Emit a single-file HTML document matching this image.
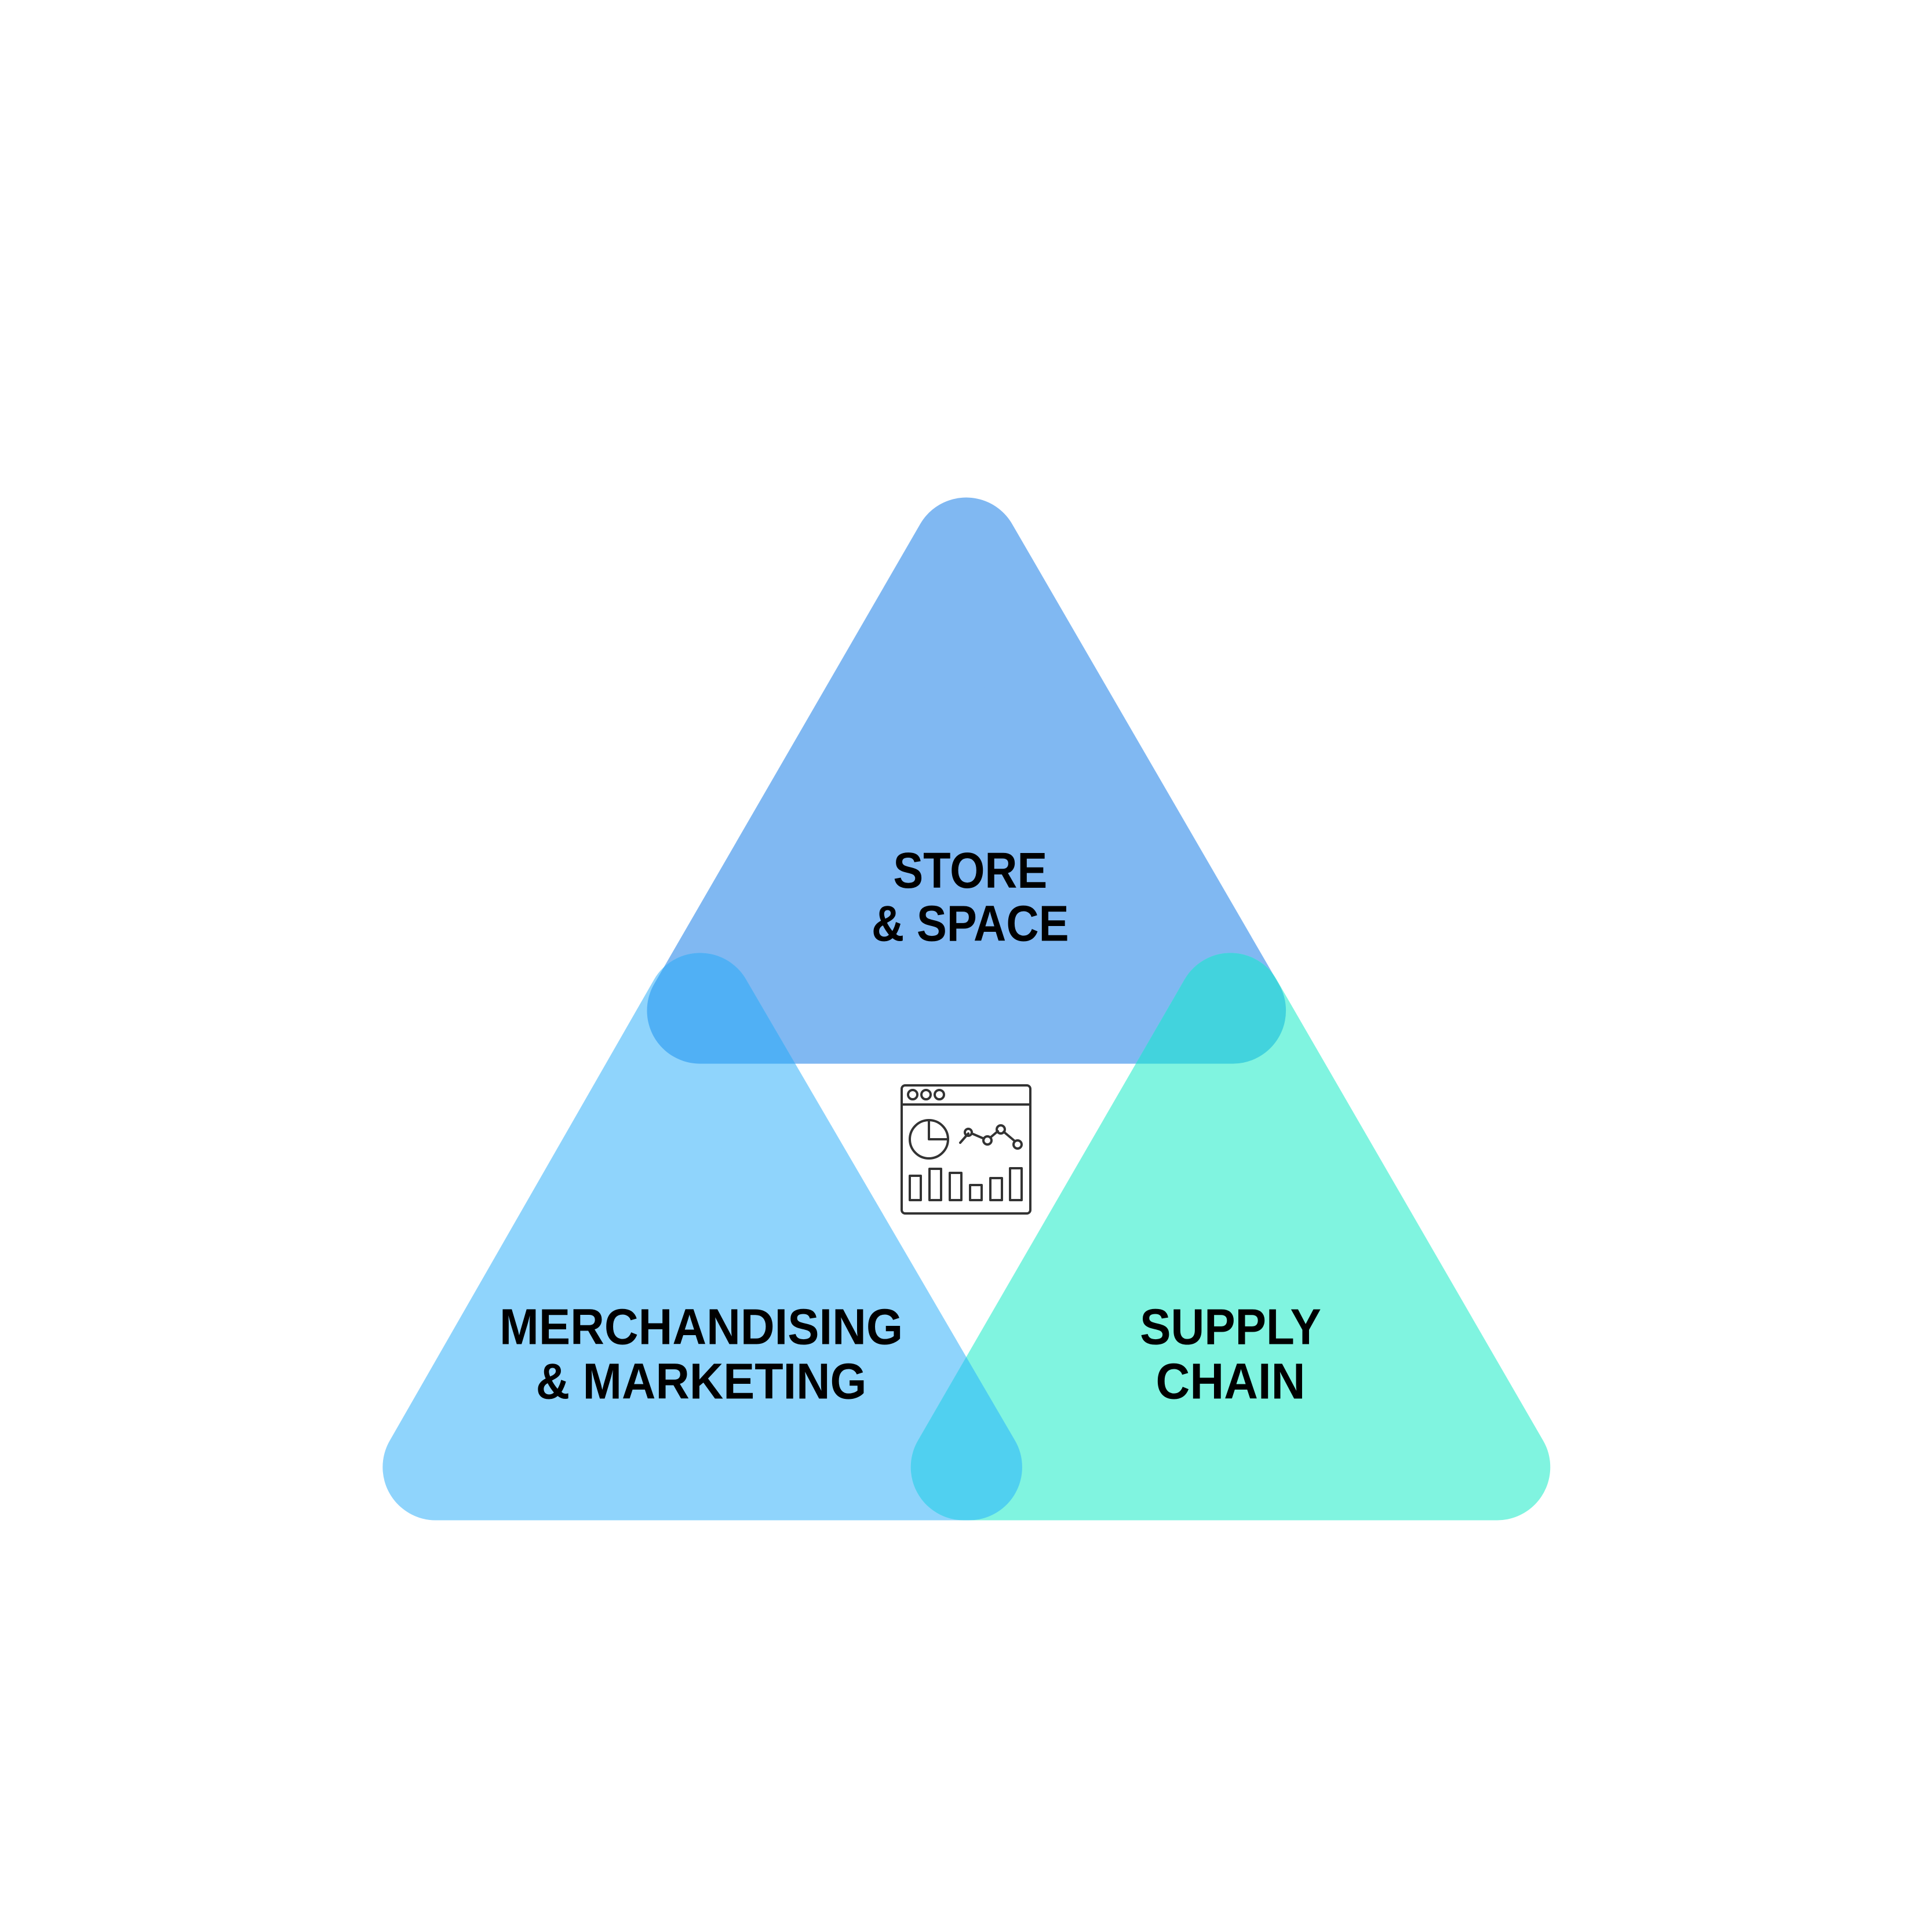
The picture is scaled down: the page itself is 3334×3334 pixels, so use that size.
<!DOCTYPE html>
<html><head><style>html,body{margin:0;padding:0;background:#fff}svg{display:block}</style></head>
<body>
<svg width="3334" height="3334" viewBox="0 0 3334 3334" xmlns="http://www.w3.org/2000/svg">
<defs>
<mask id="mT" maskUnits="userSpaceOnUse" x="0" y="0" width="3334" height="3334"><rect width="3334" height="3334" fill="#000"/><polygon points="1673,955 1212,1752 2135,1752" fill="#fff" stroke="#fff" stroke-width="184" stroke-linejoin="round"/></mask>
<mask id="mL" maskUnits="userSpaceOnUse" x="0" y="0" width="3334" height="3334"><rect width="3334" height="3334" fill="#000"/><polygon points="1212,1744 754,2543 1678,2543" fill="#fff" stroke="#fff" stroke-width="184" stroke-linejoin="round"/></mask>
</defs>
<g transform="translate(1,-1) scale(0.996)">
<g stroke-linejoin="round" stroke-width="184">
<polygon points="1673,955 1212,1752 2135,1752" fill="#80b8f2" stroke="#80b8f2"/>
<polygon points="1212,1744 754,2543 1678,2543" fill="#8fd4fc" stroke="#8fd4fc"/>
<polygon points="2131,1744 1669,2543 2593,2543" fill="#80f4e0" stroke="#80f4e0"/>
</g>
<g mask="url(#mT)" stroke-linejoin="round" stroke-width="184">
<polygon points="1212,1744 754,2543 1678,2543" fill="#50b0f5" stroke="#50b0f5"/>
<polygon points="2131,1744 1669,2543 2593,2543" fill="#42d3dd" stroke="#42d3dd"/>
</g>
<g mask="url(#mL)" stroke-linejoin="round" stroke-width="184">
<polygon points="2131,1744 1669,2543 2593,2543" fill="#50d0f0" stroke="#50d0f0"/>
</g>
<g font-family="Liberation Sans, sans-serif" font-weight="bold" font-size="88" fill="#000" text-anchor="middle">
<text x="1680" y="1539" textLength="267" lengthAdjust="spacingAndGlyphs">STORE</text>
<text x="1680" y="1631" textLength="342" lengthAdjust="spacingAndGlyphs">&amp; SPACE</text>
<text x="1214" y="2330" textLength="699" lengthAdjust="spacingAndGlyphs">MERCHANDISING</text>
<text x="1214" y="2424" textLength="573" lengthAdjust="spacingAndGlyphs">&amp; MARKETING</text>
<text x="2131" y="2330" textLength="314" lengthAdjust="spacingAndGlyphs">SUPPLY</text>
<text x="2131" y="2424" textLength="259" lengthAdjust="spacingAndGlyphs">CHAIN</text>
</g>
</g>
<g fill="none" stroke="#333" stroke-width="4" stroke-linejoin="round" stroke-linecap="round">
<rect x="1556" y="1873" width="222" height="221" rx="6"/>
<line x1="1556" y1="1906" x2="1778" y2="1906"/>
<circle cx="1575" cy="1889" r="8"/><circle cx="1598" cy="1889" r="8"/><circle cx="1621" cy="1889" r="8"/>
<circle cx="1603" cy="1966" r="33"/>
<polyline points="1603,1933 1603,1966 1636,1966"/>
<polyline points="1657,1972 1671,1956"/>
<line x1="1677" y1="1956" x2="1698" y2="1965"/>
<line x1="1709" y1="1963" x2="1722" y2="1952"/>
<line x1="1732" y1="1953" x2="1751" y2="1969"/>
<circle cx="1671" cy="1954" r="6"/><circle cx="1704" cy="1968" r="7"/><circle cx="1727" cy="1949" r="7"/><circle cx="1756" cy="1975" r="7"/>
<rect x="1570" y="2029" width="19" height="42"/>
<rect x="1604" y="2017" width="20" height="54"/>
<rect x="1639" y="2024" width="20" height="47"/>
<rect x="1674" y="2045" width="20" height="26"/>
<rect x="1709" y="2033" width="20" height="38"/>
<rect x="1743" y="2016" width="20" height="55"/>
</g>
</svg>
</body></html>
